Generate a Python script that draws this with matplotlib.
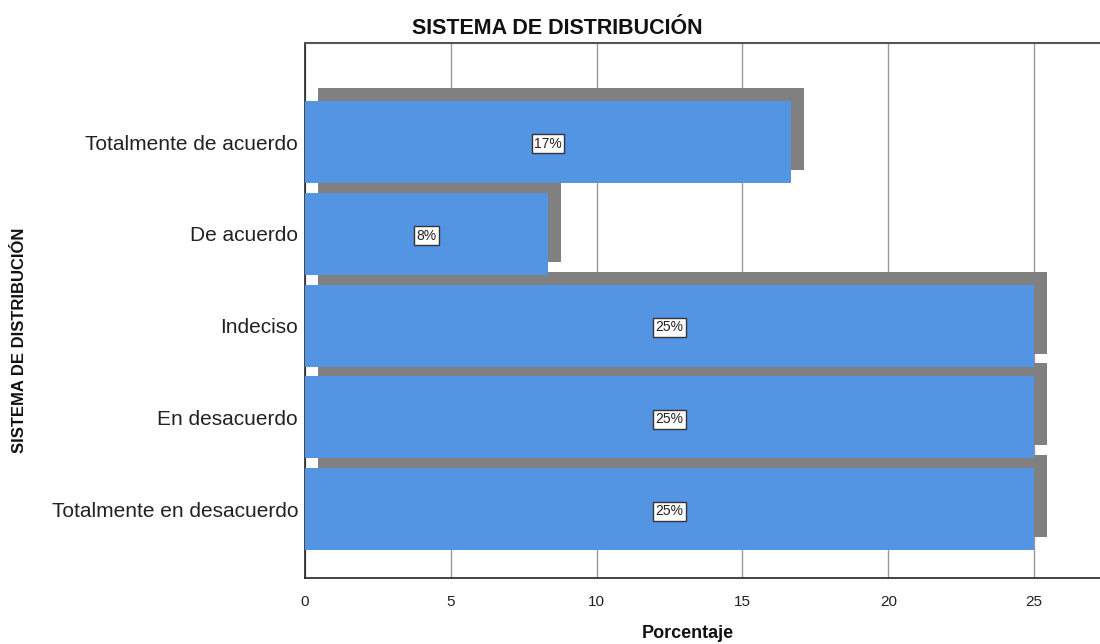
import matplotlib
matplotlib.use("Agg")
import matplotlib.pyplot as plt
from matplotlib.transforms import ScaledTranslation

plt.rcParams['font.family'] = ['Liberation Sans', 'DejaVu Sans']

categories = ["Totalmente de acuerdo", "De acuerdo", "Indeciso",
              "En desacuerdo", "Totalmente en desacuerdo"]
percentages = [16.67, 8.33, 25.0, 25.0, 25.0]
value_labels = ["17%", "8%", "25%", "25%", "25%"]
x_ticks = [0, 5, 10, 15, 20, 25]

BAR_COLOR = "#5394E3"
SHADOW_COLOR = "#808080"

fig = plt.figure(figsize=(11, 6.44), dpi=100)
ax = fig.add_axes([305 / 1100, 66 / 644, 795 / 1100, 535 / 644])

ypos = list(range(len(categories)))
bar_h = 0.894

# drop shadows: same bars shifted right/up by a fixed pixel offset
shadow_tf = ax.transData + ScaledTranslation(13 / 100, 13 / 100, fig.dpi_scale_trans)
ax.barh(ypos, percentages, height=bar_h, color=SHADOW_COLOR,
        transform=shadow_tf, zorder=2, linewidth=0)
ax.barh(ypos, percentages, height=bar_h, color=BAR_COLOR,
        zorder=3, linewidth=0)

for y, v, lab in zip(ypos, percentages, value_labels):
    ax.text(v / 2, y + 0.02, lab, ha="center", va="center", fontsize=10,
            color="#222222", zorder=5,
            bbox=dict(boxstyle="square,pad=0.18", facecolor="white",
                      edgecolor="#333333", linewidth=1.0))

ax.set_xlim(0, 27.26)
ax.set_ylim(4.75, -1.08)
ax.set_yticks(ypos)
ax.set_yticklabels(categories, fontsize=15, color="#222222")
ax.set_xticks(x_ticks)
ax.set_xticklabels([str(t) for t in x_ticks], fontsize=11, color="#222222")
ax.tick_params(axis="y", length=0, pad=5)
ax.tick_params(axis="x", length=0, pad=12)

ax.grid(axis="x", color="#9a9a9a", linewidth=1.0, zorder=1)
ax.set_axisbelow(True)

for side in ("left", "bottom"):
    ax.spines[side].set_color("#222222")
    ax.spines[side].set_linewidth(1.2)
ax.spines["top"].set_color("#555555")
ax.spines["top"].set_linewidth(1.5)
ax.spines["right"].set_visible(False)

fig.text(557 / 1100, 1 - 28 / 644, "SISTEMA DE DISTRIBUCIÓN", ha="center",
         va="center", fontsize=15.5, fontweight="bold", color="#111111")
fig.text(688 / 1100, 1 - 634 / 644, "Porcentaje", ha="center", va="center",
         fontsize=13, fontweight="bold", color="#111111")
fig.text(20 / 1100, 1 - 340 / 644, "SISTEMA DE DISTRIBUCIÓN", ha="center",
         va="center", rotation=90, fontsize=12, fontweight="bold",
         color="#111111")

fig.savefig("out.png", dpi=100)
